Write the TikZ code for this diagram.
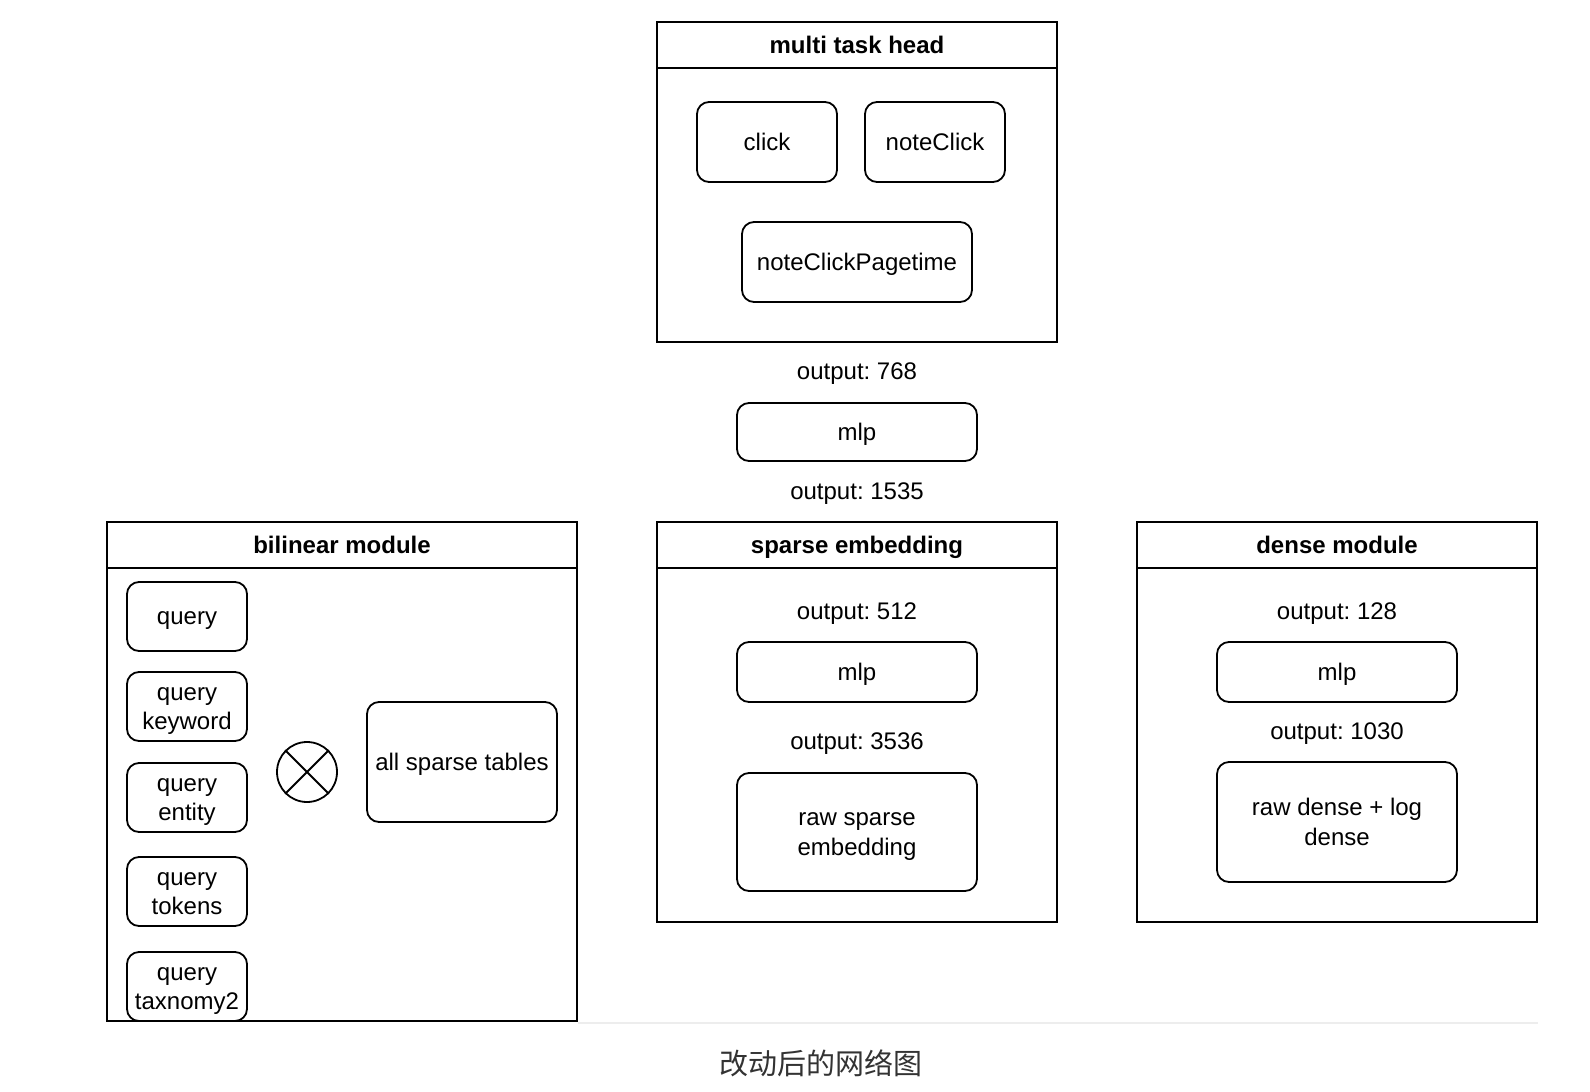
\documentclass[tikz,border=0pt]{standalone}
\usepackage{fontspec}
\setmainfont{Liberation Sans}
\newfontfamily\cjk{Noto Sans CJK SC}
\newcommand\vs{\rule[-3.2pt]{0pt}{14.7pt}}
\begin{document}
\frenchspacing
\begin{tikzpicture}[x=0.5pt,y=-0.5pt,
  every node/.style={font=\fontsize{12}{14.7}\selectfont, inner sep=0pt, align=center, execute at begin node=\vs},
  container/.style={draw, line width=1pt, rectangle},
  header/.style={draw, line width=1pt, rectangle, anchor=north, minimum height=23pt, font=\fontsize{12}{14.7}\selectfont\bfseries},
  rbox/.style={draw, line width=0.9pt, rectangle, rounded corners=6pt},
  lbl/.style={},
  xcircle/.style={draw, line width=0.9pt, circle, minimum size=30pt}
]
\useasboundingbox (0,0) rectangle (1590,1092);

% ---------- multi task head ----------
\node[container, minimum width=200pt, minimum height=160pt] (mth) at (857,182) {};
\node[header, minimum width=200pt] (mthh) at (mth.north) {multi task head};
\node[rbox, minimum width=70pt, minimum height=40pt] (click) at (767,142) {click};
\node[rbox, minimum width=70pt, minimum height=40pt] (noteclick) at (935,142) {noteClick};
\node[rbox, minimum width=115pt, minimum height=40pt] (ncpt) at (857,262) {noteClickPagetime};

\node[lbl] (o768) at (857,371) {output: 768};
\node[rbox, minimum width=120pt, minimum height=29pt] (mlptop) at (857,432) {mlp};
\node[lbl] (o1535) at (857,491) {output: 1535};

% ---------- bilinear module ----------
\node[container, minimum width=235pt, minimum height=249.5pt] (bil) at (342,771.5) {};
\node[header, minimum width=235pt] (bilh) at (bil.north) {bilinear module};
\node[rbox, minimum width=60pt, minimum height=34.5pt] (q1) at (187,616.5) {query};
\node[rbox, minimum width=60pt, minimum height=34.5pt] (q2) at (187,706.5) {\vs query\\\vs keyword};
\node[rbox, minimum width=60pt, minimum height=34.5pt] (q3) at (187,797.5) {\vs query\\\vs entity};
\node[rbox, minimum width=60pt, minimum height=34.5pt] (q4) at (187,891.5) {\vs query\\\vs tokens};
\node[rbox, minimum width=60pt, minimum height=34.5pt] (q5) at (187,986.5) {\vs query\\\vs taxnomy2};
\node[xcircle] (cross) at (307,772) {};
\draw[line width=0.9pt] (cross.45) -- (cross.225) (cross.135) -- (cross.315);
\node[rbox, minimum width=95pt, minimum height=60pt] (allsparse) at (462,762) {all sparse tables};

% ---------- sparse embedding ----------
\node[container, minimum width=200pt, minimum height=200pt] (sp) at (857,722) {};
\node[header, minimum width=200pt] (sph) at (sp.north) {sparse embedding};
\node[lbl] (o512) at (857,611) {output: 512};
\node[rbox, minimum width=120pt, minimum height=30pt] (mlpsp) at (857,672) {mlp};
\node[lbl] (o3536) at (857,741) {output: 3536};
\node[rbox, minimum width=120pt, minimum height=59pt] (rawsp) at (857,832) {\vs raw sparse\\\vs embedding};

% ---------- dense module ----------
\node[container, minimum width=200pt, minimum height=200pt] (dn) at (1337,722) {};
\node[header, minimum width=200pt] (dnh) at (dn.north) {dense module};
\node[lbl] (o128) at (1337,611) {output: 128};
\node[rbox, minimum width=120pt, minimum height=30pt] (mlpdn) at (1337,672) {mlp};
\node[lbl] (o1030) at (1337,731) {output: 1030};
\node[rbox, minimum width=120pt, minimum height=60pt] (rawdn) at (1337,822) {\vs raw dense + log\\\vs dense};

% ---------- separator and caption ----------
\coordinate (sepL) at (578,1023);
\coordinate (sepR) at (1538,1023);
\draw[line width=0.6pt, color=black!7] (sepL) -- (sepR);
\node[font=\cjk\fontsize{14.5}{17}\selectfont, text=black!80, execute at begin node={}] (cap) at (821,1065) {改动后的网络图};
\end{tikzpicture}
\end{document}
